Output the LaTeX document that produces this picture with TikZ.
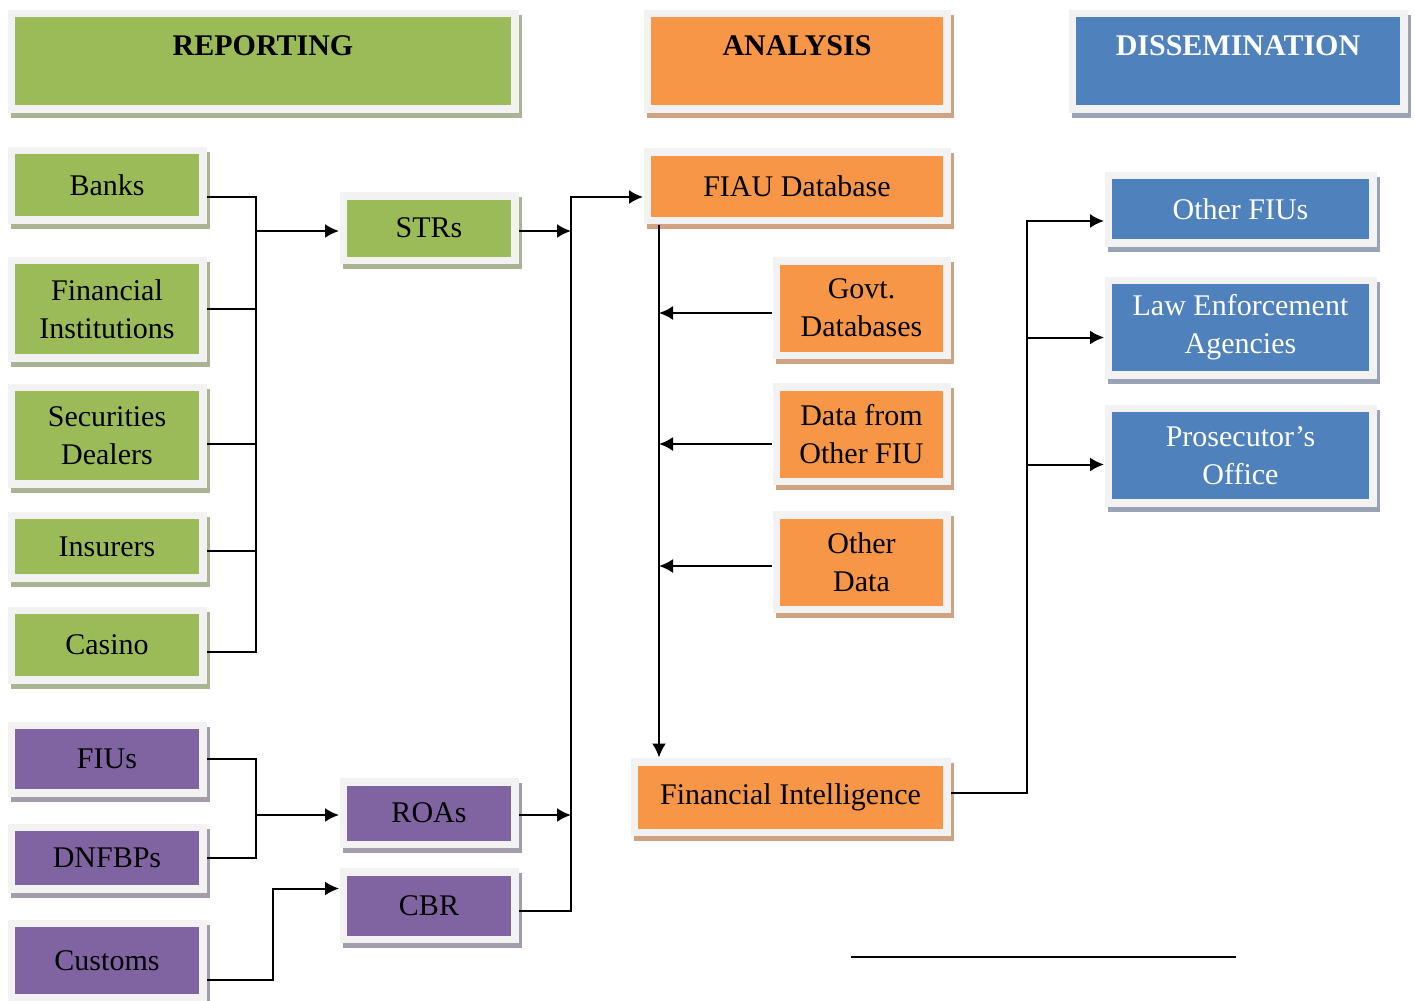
\documentclass[tikz,border=0pt]{standalone}
\usepackage{fontspec}
\setmainfont{Liberation Serif}
\usetikzlibrary{arrows.meta,calc,positioning}
\definecolor{repgreen}{HTML}{9BBB59}
\definecolor{anaorange}{HTML}{F79646}
\definecolor{disblue}{HTML}{4F81BD}
\definecolor{srcpurple}{HTML}{8064A2}
\definecolor{framegray}{HTML}{F2F2F2}
\definecolor{greenshade}{HTML}{A9B495}
\definecolor{orangeshade}{HTML}{CFA382}
\definecolor{blueshade}{HTML}{98A4B6}
\definecolor{purpleshade}{HTML}{A29CAB}

\begin{document}
\begin{tikzpicture}[
  x=0.5pt,y=-0.5pt,
  font=\fontsize{15}{19}\selectfont,
  card/.style 2 args={fill=#1,inner sep=0pt,outer sep=4pt,align=center,
    preaction={draw=#2,line width=7.5pt,transform canvas={xshift=1.5pt,yshift=-2.5pt}},
    preaction={draw=framegray,line width=7.5pt}},
  grncard/.style={card={repgreen}{greenshade}},
  orgcard/.style={card={anaorange}{orangeshade}},
  blucard/.style={card={disblue}{blueshade},text=white},
  purcard/.style={card={srcpurple}{purpleshade}},
  heading/.style={font=\fontsize{15}{19}\selectfont\bfseries,text height=19pt,text depth=25pt},
  wire/.style={line width=1pt},
  arrow/.style={-{Latex[length=7pt,width=7pt]},line width=1pt}
]
\useasboundingbox (0,0) rectangle (1415,1001);

% column headings
\node[grncard,heading,minimum width=248pt] (reporting) at (263,61) {REPORTING};
\node[orgcard,heading,minimum width=146pt] (analysis) at (797,61) {ANALYSIS};
\node[blucard,heading,minimum width=162pt] (dissemination) at (1238,61) {DISSEMINATION};

% reporting entities
\node[grncard,minimum width=92pt,minimum height=31pt] (banks) at (107,185) {Banks};
\node[grncard,minimum width=92pt,minimum height=45pt,below=16pt of banks] (finst) {Financial\\Institutions};
\node[grncard,minimum width=92pt,minimum height=44.5pt,below=10.5pt of finst] (secdeal) {Securities\\Dealers};
\node[grncard,minimum width=92pt,minimum height=27.5pt,below=11.5pt of secdeal] (insurers) {Insurers};
\node[grncard,minimum width=92pt,minimum height=31pt,below=12pt of insurers] (casino) {Casino};
\node[purcard,minimum width=92pt,minimum height=30pt,below=18.5pt of casino] (fius) {FIUs};
\node[purcard,minimum width=92pt,minimum height=27pt,below=13pt of fius] (dnfbps) {DNFBPs};
\node[purcard,minimum width=92pt,minimum height=33.5pt,below=13pt of dnfbps] (customs) {Customs};

% reports
\node[grncard,minimum width=82pt,minimum height=28.5pt] (strs) at (429,228) {STRs};
\node[purcard,minimum width=82pt,minimum height=27.5pt] (roas) at (429,813) {ROAs};
\node[purcard,minimum width=82pt,minimum height=30pt,below=9.5pt of roas] (cbr) {CBR};

% analysis sources
\node[orgcard,minimum width=146pt,minimum height=30.5pt] (fiau) at (797,186) {FIAU Database};
\node[orgcard,minimum width=81.5pt,minimum height=43.5pt] (govt) at (861.5,308) {Govt.\\Databases};
\node[orgcard,minimum width=81.5pt,minimum height=43.5pt,below=11.5pt of govt] (otherfiu) {Data from\\Other FIU};
\node[orgcard,minimum width=81.5pt,minimum height=43.5pt,below=12.5pt of otherfiu] (otherdata) {Other\\Data};
\node[orgcard,minimum width=152.5pt,minimum height=31.5pt] (finintel) at (790.5,797) {Financial Intelligence};

% recipients
\node[blucard,minimum width=128.5pt,minimum height=30pt] (otherfius) at (1240.5,209) {Other FIUs};
\node[blucard,minimum width=128.5pt,minimum height=43.5pt,below=14.5pt of otherfius] (lea) {Law Enforcement\\Agencies};
\node[blucard,minimum width=128.5pt,minimum height=43.5pt,below=12.5pt of lea] (prosec) {Prosecutor’s\\Office};

% bus points
\coordinate (rbus) at (256,231);
\coordinate (pbus) at (256,815);
\coordinate (cbend) at (273,935);
\coordinate (mbus) at (571,500);
\coordinate (abus) at (659,500);
\coordinate (dbus) at (1027,500);

% reporting -> STRs / ROAs / CBR
\draw[wire] ([yshift=-6pt]banks.east) -| (rbus) |- ([yshift=-3.5pt]casino.east);
\draw[wire] (finst.east) -- (finst.east -| rbus);
\draw[wire] ([yshift=-4pt]secdeal.east) -- ([yshift=-4pt]secdeal.east -| rbus);
\draw[wire] ([yshift=-2pt]insurers.east) -- ([yshift=-2pt]insurers.east -| rbus);
\draw[arrow] (rbus) -- (strs.west |- rbus);
\draw[wire] (fius.east) -| (pbus) |- (dnfbps.east);
\draw[arrow] (pbus) -- (roas.west |- pbus);
\draw[arrow] ([yshift=-9.5pt]customs.east) -| (cbend) |- ([yshift=8.5pt]cbr.west);

% reports -> FIAU database
\draw[arrow] ([yshift=-1.5pt]strs.east) -- ([yshift=-1.5pt]strs.east -| mbus);
\draw[arrow] ([yshift=-1pt]roas.east) -- ([yshift=-1pt]roas.east -| mbus);
\draw[arrow] ([yshift=-2.5pt]cbr.east) -| (mbus) |- ([yshift=-5.5pt]fiau.west);

% analysis
\draw[arrow] (fiau.south -| abus) -- (finintel.north -| abus);
\draw[arrow] ([yshift=-2.5pt]govt.west) -- ([yshift=-2.5pt]govt.west -| abus);
\draw[arrow] ([yshift=-5pt]otherfiu.west) -- ([yshift=-5pt]otherfiu.west -| abus);
\draw[arrow] ([yshift=-2pt]otherdata.west) -- ([yshift=-2pt]otherdata.west -| abus);

% dissemination
\draw[arrow] ([yshift=2pt]finintel.east) -| (dbus) |- ([yshift=-6pt]otherfius.west);
\draw[arrow] (dbus) |- ([yshift=-5pt]lea.west);
\draw[arrow] (dbus) |- ([yshift=-4.5pt]prosec.west);

\coordinate (rulel) at (851,957);
\coordinate (ruler) at (1236,957);
\draw[line width=1.3pt] (rulel) -- (ruler);
\end{tikzpicture}
\end{document}
